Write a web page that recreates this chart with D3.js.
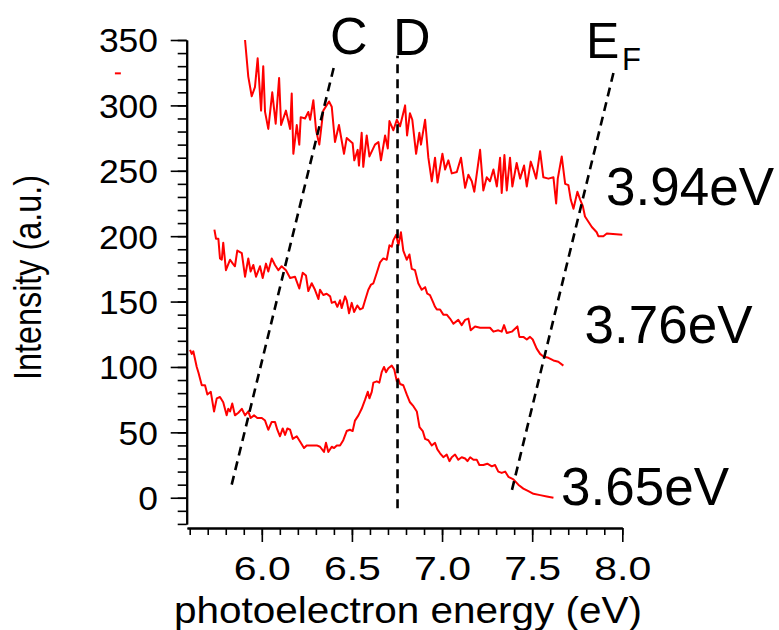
<!DOCTYPE html>
<html><head><meta charset="utf-8">
<script src="https://cdn.jsdelivr.net/npm/d3@7"></script>
<style>
body{margin:0;background:#fff}
svg text{font-family:"Liberation Sans",Arial,Helvetica,sans-serif;fill:#000}
</style>
</head><body>
<svg id="chart" width="779" height="630"></svg>
<script>
// ---- data ----
const seriesLabels = ["3.94eV", "3.76eV", "3.65eV"];

const energy394 = [5.907,5.925,5.944,5.962,5.977,5.996,6.008,6.018,6.036,6.058,6.077,6.096,6.107,6.134,6.157,6.166,6.175,6.194,6.208,6.216,6.240,6.258,6.268,6.286,6.301,6.319,6.341,6.373,6.388,6.406,6.428,6.456,6.471,6.504,6.513,6.532,6.539,6.554,6.563,6.582,6.597,6.628,6.647,6.661,6.684,6.699,6.708,6.730,6.749,6.767,
6.795,6.806,6.822,6.835,6.856,6.874,6.883,6.906,6.924,6.943,6.961,6.975,7.002,7.017,7.035,7.054,7.082,7.105,7.128,7.146,7.165,7.179,7.211,7.229,7.248,7.266,7.285,7.304,7.322,7.331,7.346,7.359,7.377,7.390,7.414,7.433,7.455,7.470,7.492,7.507,7.522,7.544,7.562,7.590,7.618,7.633,7.642,7.664,7.683,7.701,7.714,7.729,7.751,7.766,7.781,7.793,7.812,7.831,7.858,7.867,7.895,7.914,8.000];
const intensity394 = [350,322,307,314,336,296,330,295,282,310,286,321,285,296,282,309,263,285,270,291,290,295,289,304,281,270,296,303,299,272,285,263,275,271,258,266,254,279,253,277,261,270,272,258,277,267,288,281,289,284,
300,277,294,289,263,279,270,289,260,242,260,241,263,251,258,248,249,260,237,247,242,234,266,235,245,242,251,238,260,233,262,235,260,238,256,244,254,238,257,251,244,265,245,244,245,225,244,261,240,239,228,221,234,228,223,215,211,207,203,200,200,202,201];

const energy376 = [5.737,5.746,5.759,5.768,5.778,5.786,5.801,5.824,5.839,5.851,5.864,5.889,5.907,5.925,5.938,5.953,5.968,5.990,6.005,6.023,6.036,6.055,6.073,6.092,6.110,6.134,6.157,6.184,6.208,6.227,6.245,6.258,6.277,6.295,6.314,6.323,6.341,6.360,6.379,6.388,6.406,6.419,6.434,6.443,6.462,6.471,6.484,6.499,6.512,6.530,6.545,6.560,6.573,6.591,6.606,6.619,6.638,6.656,6.674,6.693,6.708,6.721,6.730,6.745,6.758,6.772,6.785,6.804,6.819,6.832,6.850,6.868,6.887,6.906,6.918,6.933,6.952,6.961,6.971,6.989,7.007,7.026,7.044,7.063,7.090,7.109,7.128,7.146,7.159,7.183,7.211,7.239,7.266,7.285,7.312,7.331,7.344,7.359,7.387,7.418,7.429,7.451,7.470,7.488,7.503,7.525,7.544,7.562,7.590,7.618,7.645,7.673];
const intensity376 = [205,198,198,183,182,195,174,182,179,177,189,187,169,183,173,178,169,177,168,179,173,183,178,174,177,174,168,169,160,172,170,158,164,159,152,159,155,156,154,149,150,146,151,145,154,151,141,149,142,147,144,145,151,159,163,164,172,180,183,182,193,192,197,201,193,203,189,182,186,175,174,164,159,161,156,155,149,146,144,144,140,140,137,133,136,132,136,137,128,131,130,130,130,127,128,127,132,126,127,131,123,123,121,123,121,114,110,108,107,105,104,101];

const energy365 = [5.602,5.611,5.620,5.639,5.648,5.667,5.685,5.698,5.717,5.735,5.750,5.768,5.786,5.805,5.814,5.824,5.836,5.851,5.870,5.889,5.907,5.925,5.938,5.957,5.975,6.000,6.018,6.036,6.055,6.073,6.086,6.101,6.116,6.129,6.142,6.157,6.172,6.194,6.212,6.234,6.249,6.277,6.305,6.323,6.345,6.356,6.369,6.388,6.401,6.416,6.434,6.452,6.471,6.489,6.504,6.517,6.536,6.554,6.573,6.588,6.597,6.610,6.619,6.638,6.652,6.665,6.678,6.689,6.702,6.721,6.735,6.749,6.757,6.767,6.785,6.804,6.822,6.841,6.860,6.875,6.893,6.906,6.924,6.943,6.961,6.974,6.989,7.007,7.026,7.041,7.054,7.072,7.090,7.109,7.128,7.141,7.156,7.174,7.193,7.207,7.229,7.251,7.276,7.294,7.312,7.331,7.350,7.368,7.396,7.423,7.451,7.479,7.507,7.544,7.581,7.618];
const intensity365 = [113,110,112,100,96,86,86,79,81,66,76,77,73,63,68,66,72,63,65,68,63,66,61,63,61,61,59,52,58,58,52,47,53,48,53,52,45,47,43,38,40,40,40,39,35,42,35,39,38,40,40,44,51,52,51,59,63,68,75,81,76,81,88,89,88,96,100,96,99,101,98,89,91,87,86,79,73,70,66,54,51,45,44,40,42,37,34,31,33,28,31,33,29,31,30,28,31,29,29,25,25,26,24,25,20,19,20,16,14,10,7,5,3,2,1,0];

// small stray legend mark at upper left
const markEnergy = [5.185, 5.218];
const markIntensity = [324.5, 324.5];

// guide lines (C, D, E_F)
const guideNames = ["C", "D", "EF"];
const guideE0 = [5.833, 6.753, 7.388];
const guideV0 = [10, -8, 6];
const guideE1 = [6.401, 6.753, 7.953];
const guideV1 = [330, 338, 326];

const xMajorTicks = [6.0, 6.5, 7.0, 7.5, 8.0];
const yMajorTicks = [0, 50, 100, 150, 200, 250, 300, 350];

// ---- drawing ----
const svg = d3.select("#chart");
const x = d3.scaleLinear().domain([5.585, 8.0]).range([187, 622.3]);
const y = d3.scaleLinear().domain([-20, 350]).range([523.9, 40]);

const xMinor = d3.range(56, 81).map(d => d / 10);
const yMinor = d3.range(-2, 36).map(d => d * 10);

// X axis
const xAxisY = 528;
const gxMinor = svg.append("g").attr("transform", `translate(0,${xAxisY})`)
  .call(d3.axisBottom(x).tickValues(xMinor).tickSize(7).tickSizeOuter(0).tickFormat(""));
const gx = svg.append("g").attr("transform", `translate(0,${xAxisY})`)
  .call(d3.axisBottom(x).tickValues(xMajorTicks).tickSize(14).tickSizeOuter(0).tickPadding(14.6).tickFormat(d3.format(".1f")));
gx.selectAll("text").attr("font-size", 33).attr("textLength", 57).attr("lengthAdjust", "spacingAndGlyphs")
  .style("font-family", '"Liberation Sans", Arial, sans-serif');

// Y axis
const yAxisX = 186.7;
const gyMinor = svg.append("g").attr("transform", `translate(${yAxisX},0)`)
  .call(d3.axisLeft(y).tickValues(yMinor).tickSize(9).tickSizeOuter(0).tickFormat(""));
const gy = svg.append("g").attr("transform", `translate(${yAxisX},0)`)
  .call(d3.axisLeft(y).tickValues(yMajorTicks).tickSize(16).tickSizeOuter(0).tickPadding(12.7).tickFormat(d3.format("d")));
gy.selectAll("text").attr("font-size", 33).attr("dy", "0.36em")
  .attr("textLength", d => String(d).length * 19.7).attr("lengthAdjust", "spacingAndGlyphs")
  .style("font-family", '"Liberation Sans", Arial, sans-serif');

[gxMinor, gx, gyMinor, gy].forEach(g => {
  g.selectAll("path.domain").attr("stroke", "#000").attr("stroke-width", 2);
  g.selectAll("line").attr("stroke", "#000").attr("stroke-width", 1.6);
});

// Axis titles
svg.append("text").attr("x", 408).attr("y", 623).attr("text-anchor", "middle")
  .attr("font-size", 37).attr("textLength", 468).attr("lengthAdjust", "spacingAndGlyphs")
  .text("photoelectron energy (eV)");
svg.append("text").attr("transform", "translate(41,277.5) rotate(-90)").attr("text-anchor", "middle")
  .attr("font-size", 39).attr("textLength", 205).attr("lengthAdjust", "spacingAndGlyphs")
  .text("Intensity (a.u.)");

// curves
const line = d3.line().x(d => x(d[0])).y(d => y(d[1]));
const series = [
  [energy394, intensity394],
  [energy376, intensity376],
  [energy365, intensity365]
];
series.forEach(([e, v]) => {
  svg.append("path").datum(e.map((d, i) => [d, v[i]]))
    .attr("d", line).attr("fill", "none").attr("stroke", "#ff0000")
    .attr("stroke-width", 2).attr("stroke-linejoin", "round");
});
svg.append("path").datum(markEnergy.map((d, i) => [d, markIntensity[i]]))
  .attr("d", line).attr("fill", "none").attr("stroke", "#ff0000").attr("stroke-width", 2);

// guide lines
guideNames.forEach((n, i) => {
  svg.append("line")
    .attr("x1", x(guideE0[i])).attr("y1", y(guideV0[i]))
    .attr("x2", x(guideE1[i])).attr("y2", y(guideV1[i]))
    .attr("stroke", "#000").attr("stroke-width", 2.6).attr("stroke-dasharray", "9,6");
});

// guide labels
svg.append("text").attr("x", 330).attr("y", 54).attr("font-size", 52).text("C");
svg.append("text").attr("x", 393).attr("y", 55).attr("font-size", 52).text("D");
const ef = svg.append("text").attr("x", 586).attr("y", 58).attr("font-size", 50);
ef.append("tspan").text("E");
ef.append("tspan").attr("x", 622).attr("y", 70).attr("font-size", 31).text("F");

// series labels
svg.append("text").attr("x", 606).attr("y", 205).attr("font-size", 53).text(seriesLabels[0]);
svg.append("text").attr("x", 584.5).attr("y", 343).attr("font-size", 53).text(seriesLabels[1]);
svg.append("text").attr("x", 561).attr("y", 505).attr("font-size", 53).text(seriesLabels[2]);
</script>
</body></html>
